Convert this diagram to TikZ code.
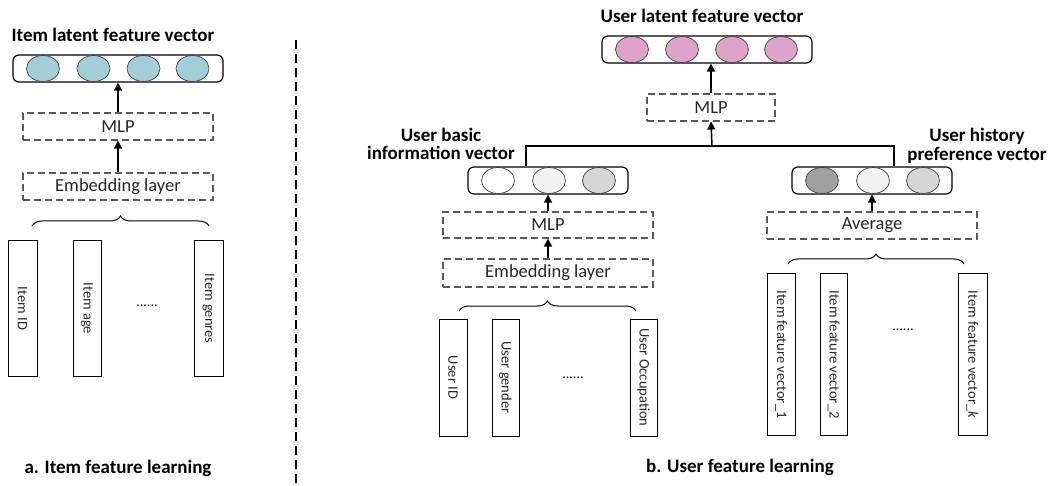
\documentclass[tikz,border=0pt]{standalone}
\usepackage{fontspec}
\setmainfont{Carlito}
\usetikzlibrary{arrows.meta,shapes.geometric,decorations.pathreplacing}
\definecolor{tealc}{HTML}{A3CDD9}
\definecolor{pinkc}{HTML}{DDA3C9}
\definecolor{g1}{HTML}{F2F2F2}
\definecolor{g2}{HTML}{D6D6D6}
\definecolor{g3}{HTML}{A0A0A0}
\tikzset{
  vecbox/.style={draw, line width=1.2pt, rounded corners=6pt, minimum height=27pt, inner sep=0pt},
  cell/.style={draw=black!75, ellipse, minimum width=33pt, minimum height=26pt, inner sep=0pt, line width=0.7pt},
  dbox/.style={draw=black!65, dash pattern=on 7pt off 4pt, line width=1.1pt, minimum height=27pt, inner sep=0pt, font=\fontsize{18.5}{20}\selectfont, text=black!85},
  col/.style={draw, line width=1pt, inner sep=0pt, rotate=-90, font=\fontsize{14.5}{16}\selectfont, text=black!85},
  ttl/.style={font=\bfseries\fontsize{19}{18.5}\selectfont, align=center},
  arr/.style={line width=1.5pt, -{Triangle[length=8pt,width=8pt]}},
  brc/.style={decorate, decoration={brace, amplitude=10pt}, line width=1pt},
  dots/.style={font=\fontsize{14}{16}\selectfont}
}
\begin{document}
\begin{tikzpicture}[x=1pt,y=-1pt]
\useasboundingbox (0,0) rectangle (1049,486);

% divider
\draw[line width=1.2pt, dash pattern=on 9pt off 5pt] (296,40) -- (296,486);

% ===== a. Item feature learning =====
\node[ttl] (atitle) at (113,35) {Item latent feature vector};
\node[vecbox, minimum width=210pt] (avec) at (118,68.5) {};
\node[cell, fill=tealc] (ac1) at (43,68.5) {};
\node[cell, fill=tealc] (ac2) at (93.5,68.5) {};
\node[cell, fill=tealc] (ac3) at (143.5,68.5) {};
\node[cell, fill=tealc] (ac4) at (192.5,68.5) {};
\node[dbox, minimum width=190pt] (amlp) at (118,126.5) {MLP};
\node[dbox, minimum width=190pt] (aemb) at (118,186.5) {Embedding layer};
\draw[arr] (aemb.north) -- (amlp.south);
\draw[arr] (amlp.north) -- (avec.south);
\draw[brc] (32,226) -- (209,226);
\node[col, minimum width=135pt, minimum height=29pt] (aid) at (22.5,308.5) {Item ID};
\node[col, minimum width=135pt, minimum height=28pt] (aage) at (87,308.5) {Item age};
\node[col, minimum width=135pt, minimum height=29pt] (agen) at (208.5,308.5) {Item genres};
\node[dots] (adots) at (147,306) {......};
\node[ttl] (acap) at (118,468) {a. Item feature learning};

% ===== b. User feature learning =====
\node[ttl] (utitle) at (702,16) {User latent feature vector};
\node[vecbox, minimum width=210pt] (uvec) at (707,49.5) {};
\node[cell, fill=pinkc] (uc1) at (632,49.5) {};
\node[cell, fill=pinkc] (uc2) at (682,49.5) {};
\node[cell, fill=pinkc] (uc3) at (732,49.5) {};
\node[cell, fill=pinkc] (uc4) at (781,49.5) {};
\node[dbox, minimum width=128pt] (umlp) at (711,107.5) {MLP};
\draw[arr] (umlp.north) -- (umlp.north |- uvec.south);

% basic information branch
\node[ttl] (btitle) at (441,144) {User basic\\information vector};
\node[vecbox, minimum width=160pt] (bvec) at (548,180.5) {};
\node[cell, fill=white] (bc1) at (498,180.5) {};
\node[cell, fill=g1] (bc2) at (549,180.5) {};
\node[cell, fill=g2] (bc3) at (599,180.5) {};
\node[dbox, minimum width=210pt, minimum height=26pt] (bmlp) at (548,225) {MLP};
\node[dbox, minimum width=210pt, minimum height=28pt] (bemb) at (548,273) {Embedding layer};
\draw[arr] (bemb.north) -- (bmlp.south);
\draw[arr] (bmlp.north) -- (bvec.south);
\draw[brc] (459,311) -- (636,311);
\node[col, minimum width=117pt, minimum height=28pt] (bid) at (453,377.5) {User ID};
\node[col, minimum width=117pt, minimum height=27pt] (bgen) at (505.5,377.5) {User gender};
\node[col, minimum width=117pt, minimum height=27pt] (bocc) at (643.5,377.5) {User Occupation};
\node[dots] (bdots) at (573,378) {......};

% history preference branch
\node[ttl] (htitle) at (977,146) {User history\\preference vector};
\node[vecbox, minimum width=160pt] (hvec) at (872,180.5) {};
\node[cell, fill=g3] (hc1) at (822,180.5) {};
\node[cell, fill=g1] (hc2) at (873,180.5) {};
\node[cell, fill=g2] (hc3) at (923,180.5) {};
\node[dbox, minimum width=210pt] (havg) at (872,225.5) {Average};
\draw[arr] (havg.north) -- (havg.north |- hvec.south);
\draw[brc] (788,264) -- (964,264);
\node[col, minimum width=161pt, minimum height=28pt] (hv1) at (781,354.5) {Item feature vector\_1};
\node[col, minimum width=161pt, minimum height=27pt] (hv2) at (833.5,354.5) {Item feature vector\_2};
\node[col, minimum width=161pt, minimum height=29pt] (hvk) at (972.5,354.5) {Item feature vector\_\textit{k}};
\node[dots] (hdots) at (903,330) {......};

% merge connector
\coordinate (junc) at (712,146);
\draw[line width=1.2pt] ([xshift=-22pt]bvec.north) |- (junc) -| ([xshift=22pt]hvec.north);
\draw[arr] (junc) -- (umlp.south);

\node[ttl] (bcap) at (740,467) {b. User feature learning};
\end{tikzpicture}
\end{document}
